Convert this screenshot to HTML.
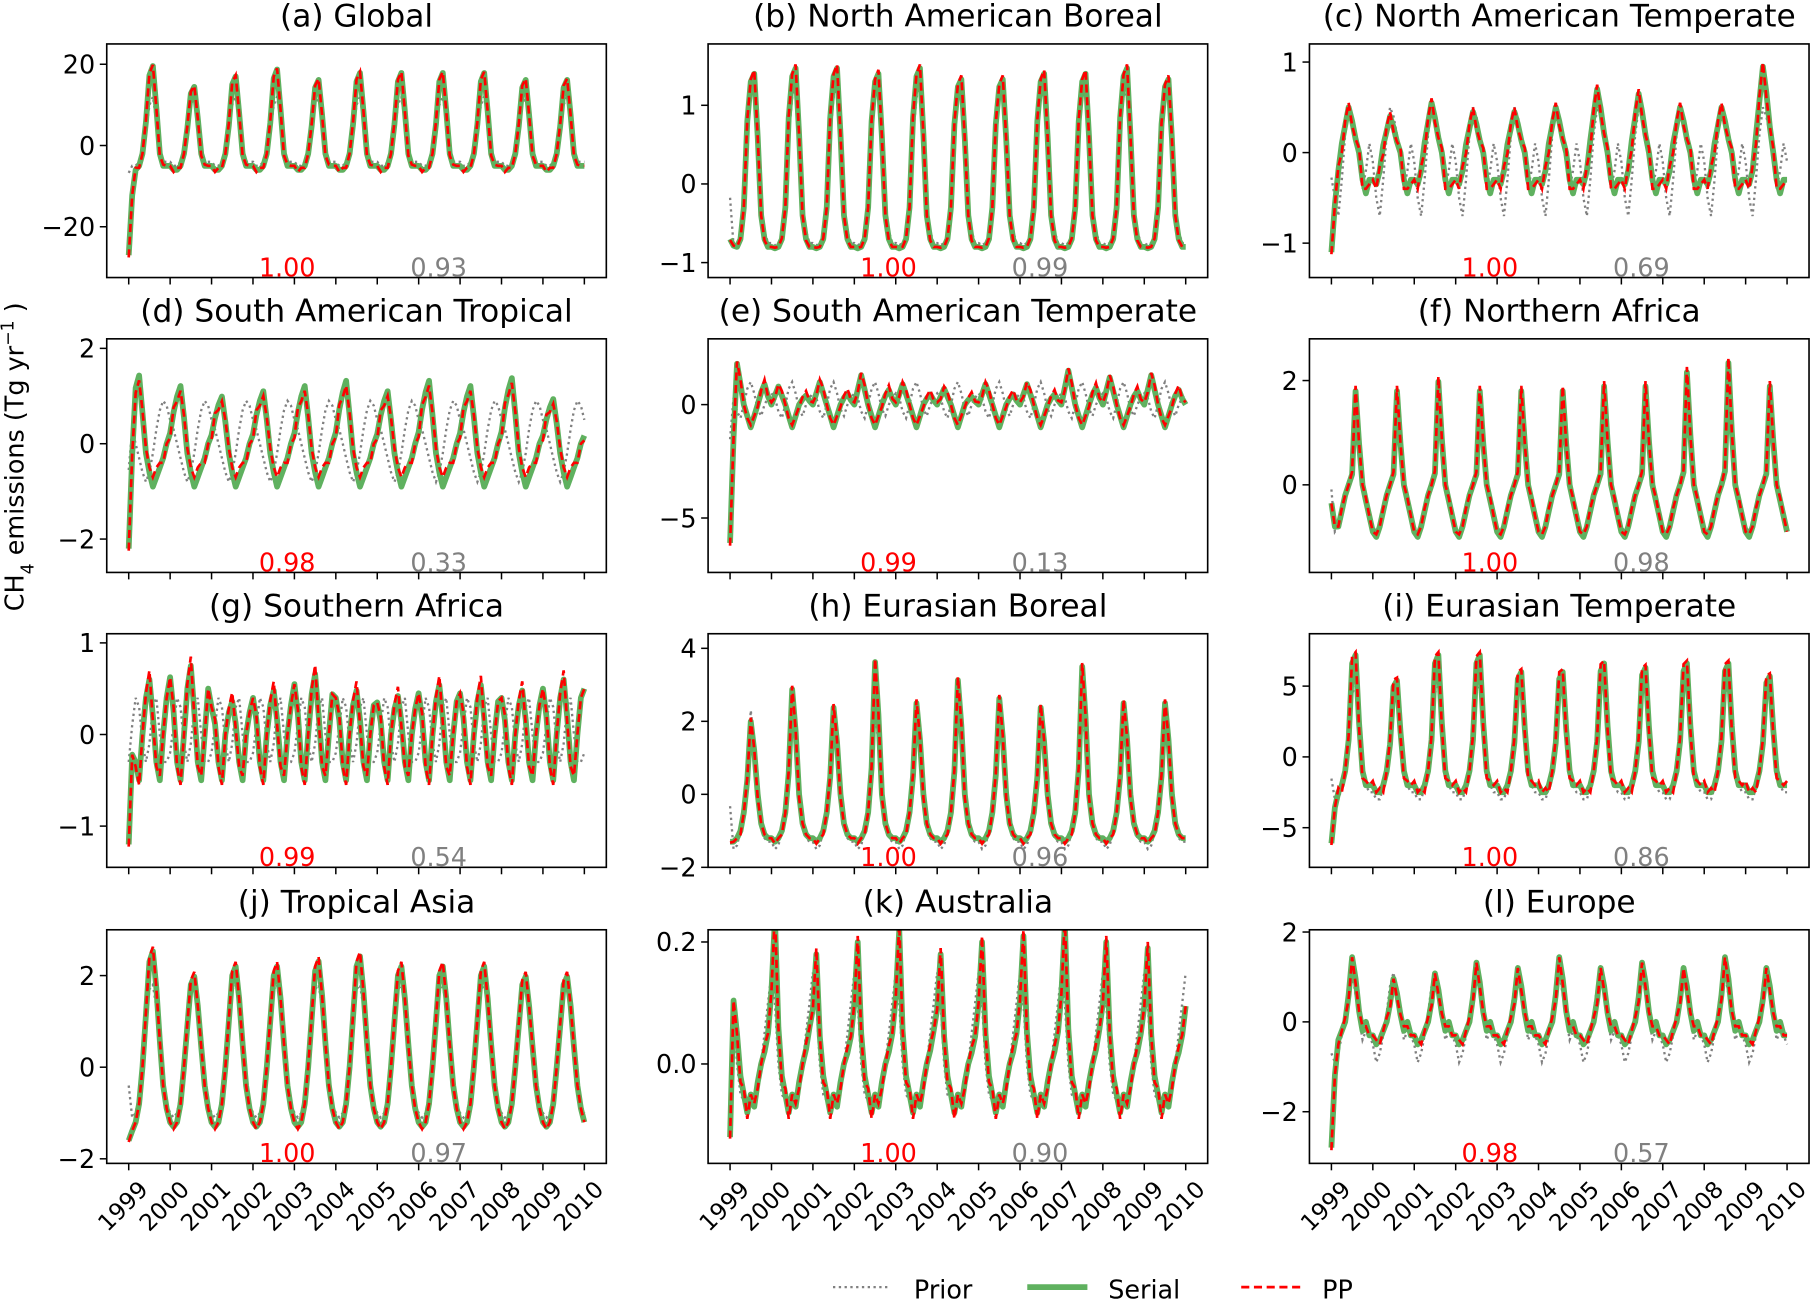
<!DOCTYPE html>
<html><head><meta charset="utf-8"><style>
html,body{margin:0;padding:0;background:#fff;}
svg{display:block;font-family:"DejaVu Sans","Liberation Sans",sans-serif;}
</style></head><body>
<svg id="fig" width="1814" height="1301" viewBox="0 0 1568 1125" xmlns="http://www.w3.org/2000/svg"></svg>
<script>
const titles = ["(a) Global","(b) North American Boreal","(c) North American Temperate","(d) South American Tropical","(e) South American Temperate","(f) Northern Africa","(g) Southern Africa","(h) Eurasian Boreal","(i) Eurasian Temperate","(j) Tropical Asia","(k) Australia","(l) Europe"];
const corrPP = ["1.00","1.00","1.00","0.98","0.99","1.00","0.99","1.00","1.00","1.00","1.00","0.98"];
const corrPrior = ["0.93","0.99","0.69","0.33","0.13","0.98","0.54","0.96","0.86","0.97","0.90","0.57"];
const years = [1999,2000,2001,2002,2003,2004,2005,2006,2007,2008,2009,2010];
const yTicks = [[20,0,-20],[1,0,-1],[1,0,-1],[2,0,-2],[0,-5],[2,0],[1,0,-1],[4,2,0,-2],[5,0,-5],[2,0,-2],[0.2,0.0],[2,0,-2]];
const yTickLabels = [["20","0","−20"],["1","0","−1"],["1","0","−1"],["2","0","−2"],["0","−5"],["2","0"],["1","0","−1"],["4","2","0","−2"],["5","0","−5"],["2","0","−2"],["0.2","0.0"],["2","0","−2"]];
const yLims = [[-32.5,25],[-1.19,1.78],[-1.38,1.2],[-2.7,2.2],[-7.4,2.9],[-1.68,2.8],[-1.45,1.1],[-2.0,4.4],[-7.8,8.7],[-2.1,3.0],[-0.163,0.22],[-3.15,2.05]];
const startVals = [-27,-0.7,-1.1,-2.2,-6.1,-0.35,-1.2,-1.3,-6.1,-1.6,-0.12,-2.8];
const clim = [
 [-5,-6,-6,-5,-2,5,15,17,8,-2,-5,-5],
 [-0.8,-0.82,-0.8,-0.7,-0.3,0.8,1.3,1.4,0.6,-0.4,-0.7,-0.8],
 [-0.3,-0.35,-0.2,0.1,0.3,0.5,0.35,0.15,0.0,-0.3,-0.45,-0.3],
 [0.2,0.6,0.9,1.1,0.5,-0.2,-0.6,-0.9,-0.7,-0.5,-0.3,0],
 [0,0.5,1,0.5,0,-0.5,-1,-0.5,0,0.3,0.5,0.2],
 [-0.9,-1.0,-0.8,-0.5,-0.2,0,0.2,1.8,0.8,0,-0.3,-0.6],
 [0.5,0.2,-0.3,-0.5,0,0.4,0.6,0.2,-0.3,-0.5,0,0.4],
 [-1.2,-1.3,-1.2,-1.0,-0.5,0.5,2.5,1.5,0,-0.8,-1.1,-1.2],
 [-2,-2.5,-2.5,-2,-1,1,5.5,6,2,-1,-2,-2],
 [-1.2,-1.3,-1.2,-0.8,0,1,2,2.2,1.5,0.5,-0.4,-0.9],
 [0.1,0.2,0.05,-0.02,-0.05,-0.08,-0.05,-0.07,-0.03,0,0.02,0.05],
 [-0.3,-0.5,-0.4,-0.2,0,0.5,1.2,0.8,0.2,-0.2,0,-0.3]
];
const yearScale = [
 [1.15,0.85,1.0,1.1,0.95,1.05,1.05,1.05,1.05,0.95,0.95],
 [1.0,1.05,1.05,1.0,1.05,0.95,0.95,1.0,1.0,1.05,0.95],
 [1.0,0.8,1.1,0.9,0.9,1.0,1.4,1.3,1.0,1.0,1.9],
 [1.3,1.1,0.9,1.0,1.1,1.2,1.0,1.2,1.1,1.25,0.85],
 [1.8,0.8,1.0,1.3,0.9,0.7,0.9,0.9,1.5,1.2,1.3],
 [1.0,1.0,1.1,1.0,1.0,1.0,1.05,1.05,1.2,1.3,1.05],
 [1.0,1.25,0.6,0.8,1.1,0.8,0.7,0.9,0.9,0.8,1.0],
 [0.8,1.15,0.95,1.45,1.0,1.25,1.05,0.95,1.4,1.0,1.0],
 [1.2,0.9,1.2,1.2,1.0,1.0,1.1,1.05,1.1,1.1,0.95],
 [1.15,0.9,1.0,1.0,1.05,1.1,1.0,1.0,1.0,0.9,0.9],
 [1.0,1.2,0.9,1.0,1.1,0.9,1.0,1.05,1.15,1.0,0.95],
 [1.2,0.8,0.9,1.1,1.0,1.2,1.0,1.1,1.0,1.2,1.0]
];
const priorClim = [
 [-4,-5,-5,-4,-2,3,10,12,6,-1,-4,-4],
 [-0.75,-0.78,-0.75,-0.65,-0.3,0.6,1.1,1.25,0.6,-0.3,-0.6,-0.75],
 [-0.1,-0.5,-0.7,-0.3,0.2,0.5,0.4,0.2,-0.1,-0.4,-0.2,0.1],
 [0.5,0.3,0,-0.3,-0.6,-0.8,-0.6,-0.2,0.3,0.7,0.9,0.8],
 [0.5,0.3,-0.3,-0.6,0,0.7,1.0,0.5,-0.2,-0.5,0,0.3],
 [-0.8,-0.9,-0.8,-0.5,-0.2,0,0.1,1.5,0.7,0,-0.3,-0.6],
 [-0.2,0.1,0.4,0.3,-0.1,-0.3,-0.1,0.3,0.4,0,-0.3,-0.3],
 [-1.3,-1.5,-1.4,-1.0,-0.4,0.6,2.3,1.4,0,-0.8,-1.2,-1.3],
 [-2.5,-3,-3,-2.2,-1,1,4.5,5,2,-1,-2,-2.5],
 [-1.0,-1.1,-1.0,-0.6,0,0.9,1.7,1.8,1.3,0.5,-0.3,-0.8],
 [0.15,0.1,0.0,-0.05,-0.06,-0.08,-0.06,-0.05,-0.03,0,0.05,0.1],
 [-0.5,-0.9,-0.7,-0.3,0.2,0.8,1.1,0.6,0.1,-0.4,-0.2,-0.3]
];
const ppDev = [
 [0,-0.5,0.5,-0.5,0,0.5,0.5,0.3,0,-0.5,0.3,0],
 [0,0.01,0,0.01,0,0.02,0.03,0.05,0,0,-0.02,0],
 [0,-0.05,0.05,-0.1,0.05,0.05,-0.05,0,0.05,-0.1,0.05,-0.05],
 [-0.1,0.1,-0.1,-0.1,0.05,0.1,0.1,0.2,0.2,0.1,-0.1,0],
 [0.1,-0.1,0.1,0.2,0,-0.1,0.1,0,-0.1,0.1,0.2,0],
 [0,0.05,0,0.05,0,0,0.05,0.1,0,0,0.05,0],
 [0,0.05,-0.05,-0.05,0,0.05,0.1,-0.05,-0.05,0.05,0,0],
 [0,-0.05,0,-0.1,0,0.05,0.1,0.05,-0.1,0,0,0],
 [0.3,0,0.3,-0.5,0,0.3,0.5,0.2,-0.3,-0.5,0.3,0],
 [0,-0.05,0,0,0,0.05,0.1,0.1,0,0,0,0],
 [0,0.01,0,-0.01,0.01,-0.01,0,0.005,-0.01,0,0.01,0],
 [0,0.1,-0.1,0,0.1,-0.1,0,-0.1,0,0.1,-0.1,0]
];
const svg = document.getElementById('fig');
const NS = 'http://www.w3.org/2000/svg';
function mk(tag, attrs, parent){const e=document.createElementNS(NS,tag);for(const k in attrs)e.setAttribute(k,attrs[k]);(parent||svg).appendChild(e);return e;}
const colX=[92,612,1132], rowY=[38,293,548,804], W=432, H=202;
const N=133;
for(let p=0;p<12;p++){
  const c=p%3, r=Math.floor(p/3);
  const x0=colX[c], y0=rowY[r];
  const g=mk('g',{});
  
  
  const xs=t=>x0+19+(t/132)*(W-38);
  const [lo,hi]=yLims[p];
  const ys=v=>y0+H-(v-lo)/(hi-lo)*H;
  const serial=[],prior=[],pp=[];
  for(let t=0;t<N;t++){
    const m=t%12, yr=Math.min(10,Math.floor(t/12));
    const cv=clim[p][m];
    let s=cv>0?cv*yearScale[p][yr]:cv;
    let pr=priorClim[p][m];
    let q=s+ppDev[p][m];
    if(t===0){s=startVals[p];q=startVals[p]*1.02;pr=startVals[p]*0.25;}
    if(t===1){s=(startVals[p]*0.3+cv*0.7);q=s;}
    serial.push(s);prior.push(pr);pp.push(q);
  }
  const path=arr=>arr.map((v,i)=>(i?'L':'M')+xs(i).toFixed(1)+','+ys(v).toFixed(1)).join('');
  const clip=mk('clipPath',{id:'cp'+p},g);mk('rect',{x:x0,y:y0,width:W,height:H},clip);
  const sg=mk('g',{'clip-path':'url(#cp'+p+')'},g);
  const pl=mk('path',{d:path(prior),fill:'none',stroke:'#808080','stroke-width':2,'stroke-dasharray':'2,3'},sg);
  
  const sl=mk('path',{d:path(serial),fill:'none',stroke:'#5fb15f','stroke-width':5,'stroke-linejoin':'round'},sg);
  
  const ql=mk('path',{d:path(pp),fill:'none',stroke:'#ff0000','stroke-width':2.3,'stroke-dasharray':'7,4'},sg);
  
  const fr=mk('rect',{x:x0,y:y0,width:W,height:H,fill:'none',stroke:'#000','stroke-width':1.4},g);
  
  const tt=mk('text',{x:x0+W/2,y:y0-15,'text-anchor':'middle','font-size':27},g);tt.textContent=titles[p];
  
  yTicks[p].forEach((v,i)=>{
    const y=ys(v);
    mk('line',{x1:x0-6,x2:x0,y1:y,y2:y,stroke:'#000','stroke-width':1.3},g);
    const l=mk('text',{x:x0-10,y:y+8,'text-anchor':'end','font-size':22},g);l.textContent=yTickLabels[p][i];
    
  });
  years.forEach((yv,i)=>{
    const x=xs(i*12);
    mk('line',{x1:x,x2:x,y1:y0+H,y2:y0+H+6,stroke:'#000','stroke-width':1.3},g);
    if(r===3){
      const l=mk('text',{x:x+8,y:y0+H+14,'text-anchor':'end','font-size':20,transform:`rotate(-45 ${x+8} ${y0+H+14})`,'dominant-baseline':'hanging'},g);
      l.textContent=yv;
      
    }
  });
  const a=mk('text',{x:x0+156,y:y0+H-1,'text-anchor':'middle','font-size':22,fill:'#ff0000'},g);a.textContent=corrPP[p];
  
  const b=mk('text',{x:x0+287,y:y0+H-1,'text-anchor':'middle','font-size':22,fill:'#808080'},g);b.textContent=corrPrior[p];
  
}
const yl=mk('text',{x:20,y:395,'text-anchor':'middle','font-size':22,transform:'rotate(-90 20 395)'});

yl.innerHTML='CH<tspan baseline-shift="sub" font-size="15">4</tspan> emissions (Tg yr<tspan baseline-shift="super" font-size="15">−1</tspan> )';
const lg=mk('g',{});
mk('line',{x1:720,x2:770,y1:1113,y2:1113,stroke:'#808080','stroke-width':2,'stroke-dasharray':'2,3'},lg);
let t1=mk('text',{x:790,y:1123,'font-size':22},lg);t1.textContent='Prior';
mk('line',{x1:888,x2:940,y1:1113,y2:1113,stroke:'#5fb15f','stroke-width':5},lg);
let t2=mk('text',{x:958,y:1123,'font-size':22},lg);t2.textContent='Serial';
mk('line',{x1:1073,x2:1125,y1:1113,y2:1113,stroke:'#ff0000','stroke-width':2.3,'stroke-dasharray':'7,4'},lg);
let t3=mk('text',{x:1143,y:1123,'font-size':22},lg);t3.textContent='PP';
</script>
</body></html>
